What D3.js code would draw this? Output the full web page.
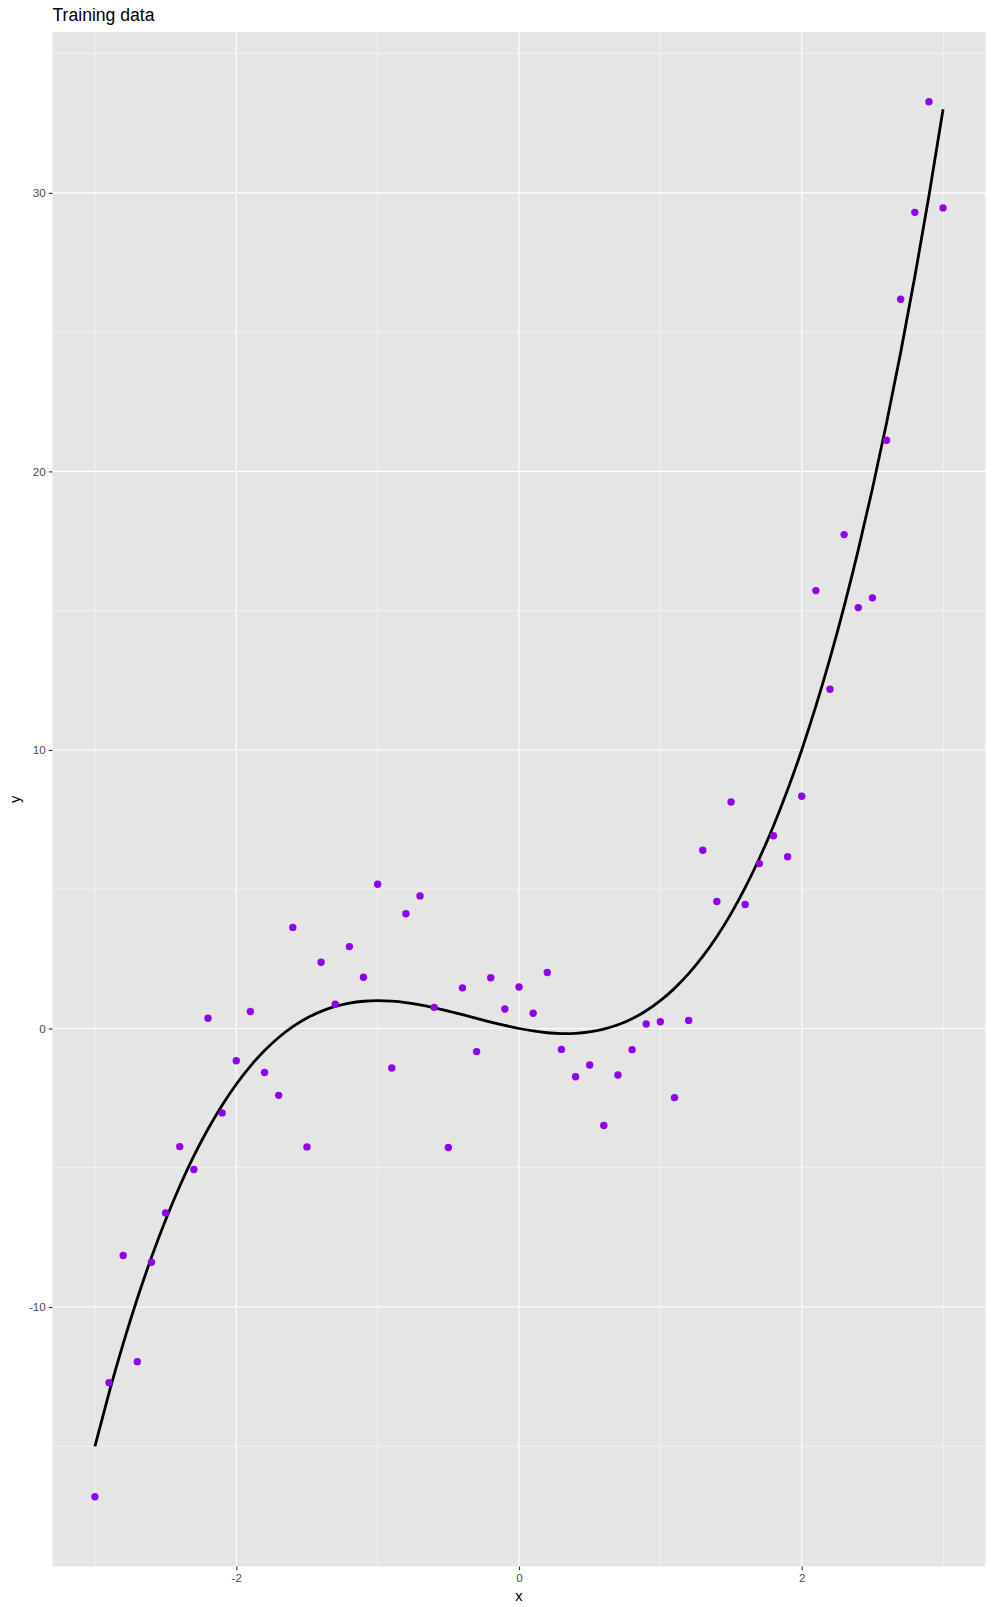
<!DOCTYPE html>
<html><head><meta charset="utf-8">
<script src="https://cdn.jsdelivr.net/npm/d3@7"></script>
<style>body{margin:0;background:#fff}svg{display:block}text{font-family:"Liberation Sans",Arial,sans-serif}</style>
</head><body><svg id="c" width="994" height="1607"></svg>
<script>
const pointX = [-3,-2.9,-2.8,-2.7,-2.6,-2.5,-2.4,-2.3,-2.2,-2.1,-2,-1.9,-1.8,-1.7,-1.6,-1.5,-1.4,-1.3,-1.2,-1.1,-1,-0.9,-0.8,-0.7,-0.6,-0.5,-0.4,-0.3,-0.2,-0.1,0,0.1,0.2,0.3,0.4,0.5,0.6,0.7,0.8,0.9,1,1.1,1.2,1.3,1.4,1.5,1.6,1.7,1.8,1.9,2,2.1,2.2,2.3,2.4,2.5,2.6,2.7,2.8,2.9,3];
const pointY = [-16.81,-12.72,-8.15,-11.96,-8.39,-6.62,-4.24,-5.06,0.37,-3.03,-1.16,0.61,-1.58,-2.40,3.63,-4.25,2.38,0.87,2.94,1.84,5.18,-1.42,4.12,4.76,0.76,-4.27,1.46,-0.83,1.82,0.70,1.49,0.55,2.01,-0.75,-1.73,-1.31,-3.48,-1.67,-0.76,0.16,0.24,-2.48,0.29,6.40,4.56,8.13,4.45,5.92,6.92,6.17,8.34,15.72,12.18,17.73,15.11,15.46,21.12,26.18,29.30,33.27,29.46];
const curveX = [-3,-2.9,-2.8,-2.7,-2.6,-2.5,-2.4,-2.3,-2.2,-2.1,-2,-1.9,-1.8,-1.7,-1.6,-1.5,-1.4,-1.3,-1.2,-1.1,-1,-0.9,-0.8,-0.7,-0.6,-0.5,-0.4,-0.3,-0.2,-0.1,0,0.1,0.2,0.3,0.4,0.5,0.6,0.7,0.8,0.9,1,1.1,1.2,1.3,1.4,1.5,1.6,1.7,1.8,1.9,2,2.1,2.2,2.3,2.4,2.5,2.6,2.7,2.8,2.9,3];
const curveY = [-15,-13.079,-11.312,-9.693,-8.216,-6.875,-5.664,-4.577,-3.608,-2.751,-2,-1.349,-0.792,-0.323,0.064,0.375,0.616,0.793,0.912,0.979,1,0.981,0.928,0.847,0.744,0.625,0.496,0.363,0.232,0.109,0,-0.089,-0.152,-0.183,-0.176,-0.125,-0.024,0.133,0.352,0.639,1,1.441,1.968,2.587,3.304,4.125,5.056,6.103,7.272,8.569,10,11.571,13.288,15.157,17.184,19.375,21.736,24.273,26.992,29.899,33];
const xTicks = [-2,0,2];
const xMinor = [-3,-1,1,3];
const yTicks = [-10,0,10,20,30];
const yMinor = [-15,-5,5,15,25,35];
const titleText = "Training data";

const svg = d3.select("#c");
const L = 52.5, R = 985.5, T = 32, B = 1566.5;
const xe = d3.extent(pointX), ye = d3.extent(pointY);
const xp = (xe[1]-xe[0])*0.05, yp = (ye[1]-ye[0])*0.05;
const x = d3.scaleLinear().domain([xe[0]-xp, xe[1]+xp]).range([L, R]);
const y = d3.scaleLinear().domain([ye[0]-yp, ye[1]+yp]).range([B, T]);

svg.append("rect").attr("x",L).attr("y",T).attr("width",R-L).attr("height",B-T).attr("fill","#E5E5E5");
const g = svg.append("g");
g.selectAll(".xmin").data(xMinor).join("line").attr("x1",d=>x(d)).attr("x2",d=>x(d)).attr("y1",T).attr("y2",B).attr("stroke","#fff").attr("stroke-width",0.55);
g.selectAll(".ymin").data(yMinor).join("line").attr("y1",d=>y(d)).attr("y2",d=>y(d)).attr("x1",L).attr("x2",R).attr("stroke","#fff").attr("stroke-width",0.55);
g.selectAll(".xmaj").data(xTicks).join("line").attr("x1",d=>x(d)).attr("x2",d=>x(d)).attr("y1",T).attr("y2",B).attr("stroke","#fff").attr("stroke-width",1.1);
g.selectAll(".ymaj").data(yTicks).join("line").attr("y1",d=>y(d)).attr("y2",d=>y(d)).attr("x1",L).attr("x2",R).attr("stroke","#fff").attr("stroke-width",1.1);

// axes
const xAxis = d3.axisBottom(x).tickValues(xTicks).tickSize(3.7).tickPadding(3).tickFormat(d3.format("d"));
const gx = svg.append("g").attr("transform",`translate(0,${B})`).call(xAxis);
const yAxis = d3.axisLeft(y).tickValues(yTicks).tickSize(3.7).tickPadding(3).tickFormat(d3.format("d"));
const gy = svg.append("g").attr("transform",`translate(${L},0)`).call(yAxis);
[gx,gy].forEach(a=>{a.select(".domain").remove();a.selectAll(".tick line").attr("stroke","#333333").attr("stroke-width",1.1);a.selectAll(".tick text").attr("fill","#4D4D4D").attr("font-size","11.7px").attr("font-family","Liberation Sans, Arial, sans-serif");});
gx.selectAll(".tick text").text(d=>d<0?"-"+Math.abs(d):d);
gy.selectAll(".tick text").text(d=>d<0?"-"+Math.abs(d):d);

// curve
const line = d3.line().x((d,i)=>x(curveX[i])).y(d=>y(d)).curve(d3.curveNatural);
svg.append("path").attr("d",line(curveY)).attr("fill","none").attr("stroke","#000").attr("stroke-width",2.8);

// points
svg.selectAll(".pt").data(pointY).join("circle").attr("cx",(d,i)=>x(pointX[i])).attr("cy",d=>y(d)).attr("r",3.7).attr("fill","#9100EB");

svg.append("text").attr("x",L).attr("y",21).attr("font-size","17.6px").attr("fill","#000").text(titleText);
svg.append("text").attr("x",(L+R)/2).attr("y",1601).attr("text-anchor","middle").attr("font-size","14.7px").attr("fill","#000").text("x");
svg.append("text").attr("transform",`translate(20,${(T+B)/2}) rotate(-90)`).attr("text-anchor","middle").attr("font-size","14.7px").attr("fill","#000").text("y");
</script></body></html>
